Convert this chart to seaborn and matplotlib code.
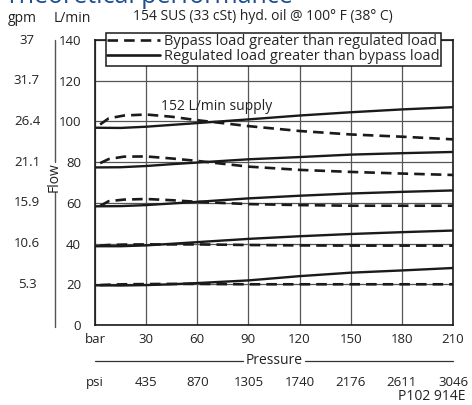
import matplotlib.pyplot as plt
import matplotlib.transforms as mtransforms
import pandas as pd
import seaborn as sns
from matplotlib.lines import Line2D

# Pressure readings (bar) and flows (L/min)
bar_solid = [0, 15, 30, 45, 60, 90, 120, 150, 180, 210]
solid_100 = [96.9, 96.8, 97.4, 98.3, 99.2, 101.0, 102.9, 104.5, 105.9, 107.0]
solid_80 = [77.4, 77.5, 78.1, 79.0, 79.8, 81.4, 82.5, 83.7, 84.4, 85.0]
solid_60 = [58.3, 58.4, 58.9, 59.7, 60.5, 62.2, 63.5, 64.6, 65.4, 66.1]
solid_40 = [38.7, 38.7, 39.1, 39.9, 40.7, 42.3, 43.6, 44.7, 45.6, 46.4]
solid_20 = [19.5, 19.4, 19.6, 20.0, 20.6, 21.9, 24.0, 25.7, 26.8, 28.0]

bar_dashed = [3, 8, 17, 30, 45, 60, 90, 120, 150, 180, 210]
dashed_100 = [98.5, 101.5, 102.9, 103.4, 102.3, 100.6, 97.7, 95.3, 93.6, 92.5, 91.2]
dashed_80 = [79.5, 81.5, 82.7, 82.8, 81.8, 80.6, 77.8, 76.2, 75.2, 74.4, 73.7]
dashed_60 = [58.5, 60.8, 61.6, 61.9, 61.3, 60.5, 59.4, 58.9, 58.6, 58.6, 58.6]
dashed_40 = [39.0, 39.3, 39.5, 39.6, 39.6, 39.6, 39.3, 39.1, 39.0, 39.0, 39.0]
dashed_20 = [19.6, 19.8, 20.0, 20.1, 20.2, 20.2, 20.0, 20.0, 20.0, 20.0, 20.0]

bar_ticks = [0, 30, 60, 90, 120, 150, 180, 210]
bar_labels = ["bar", "30", "60", "90", "120", "150", "180", "210"]
psi_labels = ["psi", "435", "870", "1305", "1740", "2176", "2611", "3046"]
lpm_ticks = [0, 20, 40, 60, 80, 100, 120, 140]
gpm_labels = ["", "5.3", "10.6", "15.9", "21.1", "26.4", "31.7", "37"]

label_dashed = "Bypass load greater than regulated load"
label_solid = "Regulated load greater than bypass load"

sns.set_style("white")
plt.rcParams["font.family"] = ["Open Sans", "DejaVu Sans"]
plt.rcParams["font.size"] = 9
text_color = "#222222"
ink = "#1a1a1a"

fig = plt.figure(figsize=(4.72, 4.05), dpi=100)
ax = fig.add_axes([95 / 472, 80 / 405, 358 / 472, 285 / 405])

# --- curves ---
rows = []
for grp, vals in zip(["100", "80", "60", "40", "20"],
                     [solid_100, solid_80, solid_60, solid_40, solid_20]):
    for x, y in zip(bar_solid, vals):
        rows.append({"bar": x, "flow": y, "curve": "s" + grp, "type": label_solid})
for grp, vals in zip(["100", "80", "60", "40", "20"],
                     [dashed_100, dashed_80, dashed_60, dashed_40, dashed_20]):
    for x, y in zip(bar_dashed, vals):
        rows.append({"bar": x, "flow": y, "curve": "d" + grp, "type": label_dashed})
df = pd.DataFrame(rows)

for curve, sub in df.groupby("curve", sort=False):
    dashed = curve.startswith("d")
    sns.lineplot(data=sub, x="bar", y="flow", ax=ax, color=ink,
                 lw=1.9 if dashed else 1.7, sort=False, estimator=None,
                 dashes=False, legend=False,
                 linestyle=(0, (4, 2.3)) if dashed else "-", zorder=3)

# --- axes styling ---
ax.set_xlim(0, 210)
ax.set_ylim(0, 140)
ax.set_xticks(bar_ticks)
ax.set_xticklabels(bar_labels)
ax.set_yticks(lpm_ticks)
ax.tick_params(axis="both", length=0, colors=text_color, labelsize=9.5)
ax.tick_params(axis="x", pad=6)
ax.tick_params(axis="y", pad=10)
ax.grid(True, color="#555555", lw=0.9)
ax.set_xlabel("")
ax.set_ylabel("")
for sp in ax.spines.values():
    sp.set_color(ink)
    sp.set_linewidth(1.2)

# legend
handles = [Line2D([], [], color=ink, lw=1.9, linestyle=(0, (4, 2.3))),
           Line2D([], [], color=ink, lw=1.9)]
leg = ax.legend(handles, [label_dashed, label_solid], loc="upper left",
                bbox_to_anchor=(11 / 358, 292 / 285), frameon=True, fancybox=False,
                handlelength=3.6, handletextpad=0.25, borderpad=0.1,
                labelspacing=0.0, borderaxespad=0, fontsize=10.5)
leg.get_frame().set_edgecolor(ink)
leg.get_frame().set_linewidth(1.1)
leg.get_frame().set_alpha(1)
leg.set_zorder(5)

ax.text(39, 107.4, "152 L/min supply", ha="left", va="center", fontsize=10,
        color=text_color)

# gpm column
ty = mtransforms.blended_transform_factory(ax.transAxes, ax.transData)
for y, lab in zip(lpm_ticks, gpm_labels):
    ax.text(-0.19, y, lab, ha="center", va="center", transform=ty, fontsize=9.5,
            color=text_color)

# Flow axis line
ax.plot([-0.1117, -0.1117], [1.0, 0.572], transform=ax.transAxes, color="#555555",
        lw=1.0, clip_on=False)
ax.plot([-0.1117, -0.1117], [0.467, -0.007], transform=ax.transAxes, color="#555555",
        lw=1.0, clip_on=False)
ax.text(-0.115, 0.519, "Flow", rotation=90, ha="center", va="center",
        transform=ax.transAxes, fontsize=10, color=text_color)

# Pressure line and psi row
ax.plot([0, 0.413], [-0.126, -0.126], transform=ax.transAxes, color="#333333",
        lw=0.9, clip_on=False)
ax.plot([0.587, 1.0], [-0.126, -0.126], transform=ax.transAxes, color="#333333",
        lw=0.9, clip_on=False)
ax.text(0.5, -0.126, "Pressure", ha="center", va="center", transform=ax.transAxes,
        fontsize=10, color=text_color)
tx = mtransforms.blended_transform_factory(ax.transData, ax.transAxes)
for x, lab in zip(bar_ticks, psi_labels):
    ax.text(x, -0.2035, lab, ha="center", va="center", transform=tx, fontsize=9.5,
            color=text_color)

# header texts
fig.text(5 / 472, 1 - 3 / 405, "Theoretical performance", ha="left", va="baseline",
         fontsize=18, color="#1d4f91")
fig.text(22 / 472, 1 - 19 / 405, "gpm", ha="center", va="center", fontsize=10,
         color=text_color)
fig.text(72 / 472, 1 - 19 / 405, "L/min", ha="center", va="center", fontsize=10,
         color=text_color)
fig.text(133 / 472, 1 - 17 / 405, "154 SUS (33 cSt) hyd. oil @ 100° F (38° C)",
         ha="left", va="center", fontsize=10, color=text_color)
fig.text(465 / 472, 1 - 396 / 405, "P102 914E", ha="right", va="center", fontsize=10,
         color=text_color)

fig.savefig("out.png", dpi=100)
